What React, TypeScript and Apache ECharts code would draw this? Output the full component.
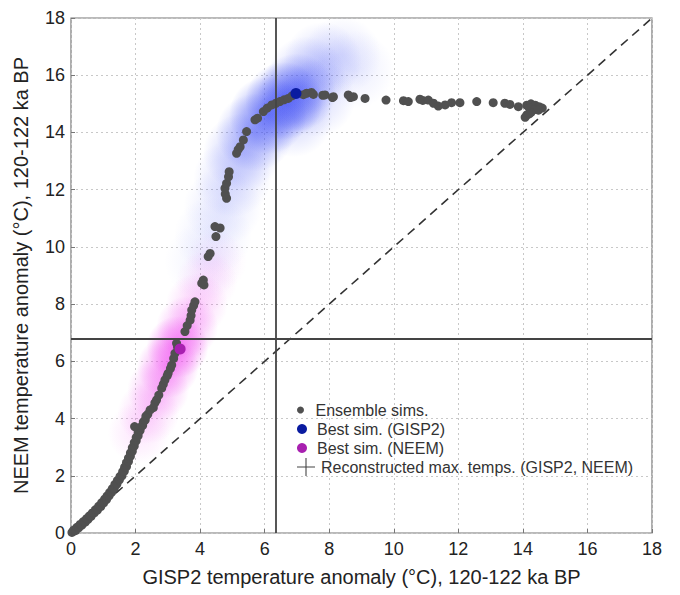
import React, { useEffect, useRef } from "react";
import * as echarts from "echarts";

// ---- data ----
const ensembleSims: number[][] = [
  [0.03, 0.02], [0.08, 0.1], [0.14, 0.08], [0.18, 0.2], [0.24, 0.18], [0.28, 0.3], [0.34, 0.28],
  [0.38, 0.4], [0.44, 0.38], [0.48, 0.5], [0.53, 0.48], [0.57, 0.6], [0.62, 0.58], [0.66, 0.7],
  [0.72, 0.7], [0.76, 0.82], [0.82, 0.8], [0.86, 0.94], [0.92, 0.92], [0.95, 1.06], [1.01, 1.05],
  [1.04, 1.18], [1.1, 1.17], [1.12, 1.3], [1.18, 1.3], [1.2, 1.42], [1.26, 1.42], [1.28, 1.55],
  [1.34, 1.56], [1.36, 1.7], [1.42, 1.7], [1.44, 1.84], [1.5, 1.86], [1.52, 1.98], [1.58, 2.0],
  [1.6, 2.14], [1.65, 2.16], [1.66, 2.3], [1.72, 2.32], [1.72, 2.46], [1.78, 2.5], [1.78, 2.62],
  [1.84, 2.68], [1.84, 2.8], [1.9, 2.86], [1.9, 2.98], [1.96, 3.04], [1.96, 3.16], [2.02, 3.22],
  [2.02, 3.34], [2.08, 3.4], [2.08, 3.52], [2.14, 3.58], [2.16, 3.7], [2.22, 3.76], [2.24, 3.88],
  [2.3, 3.95], [2.32, 4.08], [2.38, 4.15], [1.97, 3.72],
  [2.45, 4.3], [2.55, 4.38], [2.6, 4.55], [2.65, 4.65], [2.72, 4.82], [2.81, 5.06], [2.86, 5.2],
  [2.91, 5.35], [2.98, 5.5], [3.01, 5.58], [3.08, 5.75], [3.12, 5.87], [3.18, 6.1], [3.22, 6.28],
  [3.27, 6.63], [3.3, 6.5], [3.53, 7.04], [3.6, 7.25], [3.69, 7.44], [3.72, 7.6], [3.74, 7.79],
  [3.8, 7.95], [3.84, 8.08], [4.05, 8.73], [4.1, 8.84], [4.12, 8.67],
  [4.25, 9.66], [4.31, 9.77], [4.46, 10.71], [4.62, 10.66], [4.49, 10.36], [4.82, 11.7],
  [4.78, 11.85], [4.77, 12.05], [4.82, 12.22], [4.88, 12.45], [4.9, 12.63], [5.13, 13.27],
  [5.18, 13.4], [5.24, 13.5], [5.34, 13.74], [5.44, 14.03], [5.7, 14.44], [5.78, 14.5],
  [5.96, 14.73], [6.08, 14.85], [6.22, 14.96], [6.35, 15.02], [6.47, 15.08], [6.6, 15.14],
  [6.73, 15.19], [6.85, 15.28],
  [7.2, 15.32], [7.3, 15.37], [7.45, 15.4], [7.51, 15.33], [7.8, 15.3], [7.87, 15.31], [8.1, 15.22],
  [8.13, 15.25], [8.59, 15.31], [8.66, 15.22], [8.75, 15.25], [9.11, 15.19], [9.76, 15.13],
  [10.3, 15.11], [10.45, 15.08], [10.81, 15.16], [10.9, 15.12], [11.07, 15.13], [11.23, 15.02],
  [11.38, 14.92], [11.59, 14.96], [11.79, 15.04], [12.05, 15.04], [12.57, 15.08], [13.08, 15.04],
  [13.44, 15.02], [13.6, 14.98], [13.86, 14.9], [14.12, 14.95], [14.25, 15.0], [14.38, 14.95],
  [14.5, 14.9], [14.6, 14.85], [14.2, 14.85], [14.35, 14.8], [14.48, 14.78], [14.25, 14.7],
  [14.12, 14.61], [14.07, 14.53], [14.2, 14.65],
];
const bestSimGISP2: number[][] = [[6.97, 15.36]];
const bestSimNEEM: number[][] = [[3.38, 6.43]];
const reconMaxGISP2 = 6.35;
const reconMaxNEEM = 6.8;
const oneToOne: number[][] = [[0, 0], [18, 18]];
// density clouds: [x, y, relative density]
const cloudGISP2: number[][] = [
  [6.6, 15.1, 1.0], [6.1, 14.6, 0.9], [7.0, 15.4, 0.8], [5.7, 14.0, 0.65], [5.3, 13.3, 0.45],
  [5.0, 12.4, 0.3], [4.7, 11.4, 0.2], [4.4, 10.4, 0.15], [4.1, 9.5, 0.1], [7.3, 16.0, 0.4],
  [7.8, 16.5, 0.3], [8.4, 16.7, 0.2], [8.8, 16.2, 0.15], [6.9, 14.5, 0.35], [7.6, 15.2, 0.3],
];
const cloudNEEM: number[][] = [
  [3.3, 6.5, 1.0], [3.0, 5.8, 0.8], [3.6, 7.2, 0.6], [2.7, 5.0, 0.55], [2.4, 4.2, 0.35],
  [2.1, 3.5, 0.2], [3.9, 8.0, 0.35], [4.2, 8.8, 0.2], [4.5, 9.5, 0.12],
];
const axisMin = 0;
const axisMax = 18;
const axisStep = 2;

const FONT = "Liberation Sans, Arial, sans-serif";
const CROSS_ICON = "path://M0,9.4H20V10.6H0Z M9.4,0H10.6V20H9.4Z";

function radial(rgb: string, a: number) {
  return new echarts.graphic.RadialGradient(0.5, 0.5, 0.5, [
    { offset: 0, color: `rgba(${rgb},${a})` },
    { offset: 0.6, color: `rgba(${rgb},${a * 0.45})` },
    { offset: 1, color: `rgba(${rgb},0)` },
  ]);
}

export default function App() {
  const ref = useRef<HTMLDivElement>(null);
  useEffect(() => {
    if (!ref.current) return;
    const chart = echarts.init(ref.current, undefined, { renderer: "svg" });
    const axisCommon = {
      type: "value" as const,
      min: axisMin,
      max: axisMax,
      interval: axisStep,
      nameLocation: "middle" as const,
      nameTextStyle: { fontSize: 20, color: "#222", fontFamily: FONT },
      axisLine: { show: false },
      axisTick: { show: true, inside: true, length: 4, lineStyle: { color: "#777" } },
      axisLabel: { fontSize: 18, color: "#222", fontFamily: FONT },
      splitLine: { show: true, lineStyle: { color: "#c8c8c8", type: [2, 3] as any, width: 1 } },
    };
    chart.setOption({
      animation: false,
      backgroundColor: "#fff",
      grid: {
        left: 71, right: 28, top: 18, bottom: 62,
        show: true, borderColor: "#777", borderWidth: 1.2, backgroundColor: "#fff",
      },
      xAxis: {
        ...axisCommon,
        name: "GISP2 temperature anomaly (°C), 120-122 ka BP",
        nameGap: 34,
        axisLabel: { ...axisCommon.axisLabel, margin: 7 },
      },
      yAxis: {
        ...axisCommon,
        name: "NEEM temperature anomaly (°C), 120-122 ka BP",
        nameGap: 40,
        axisLabel: { ...axisCommon.axisLabel, margin: 6 },
      },
      legend: [
        {
          orient: "vertical", left: 292, top: 397, itemWidth: 20, itemHeight: 7, selectedMode: false,
          textStyle: { fontSize: 16, color: "#333", fontFamily: FONT, lineHeight: 16 },
          data: [{ name: "Ensemble sims.", icon: "circle" }],
        },
        {
          orient: "vertical", left: 292, top: 416, itemWidth: 20, itemHeight: 10, itemGap: 3, selectedMode: false,
          textStyle: { fontSize: 16, color: "#333", fontFamily: FONT, lineHeight: 16 },
          data: [
            { name: "Best sim. (GISP2)", icon: "circle" },
            { name: "Best sim. (NEEM)", icon: "circle" },
          ],
        },
        {
          orient: "vertical", left: 292, top: 453, itemWidth: 20, itemHeight: 18, selectedMode: false,
          textStyle: { fontSize: 16, color: "#333", fontFamily: FONT, lineHeight: 16 },
          data: [{ name: "Reconstructed max. temps. (GISP2, NEEM)", icon: CROSS_ICON }],
        },
      ],
      series: [
        {
          name: "cloud GISP2", type: "scatter", silent: true, z: 1, symbolSize: 78,
          itemStyle: { color: radial("65,80,245", 0.65) },
          data: cloudGISP2.map((d) => ({ value: [d[0], d[1]], itemStyle: { opacity: d[2] } })),
        },
        {
          name: "cloud NEEM", type: "scatter", silent: true, z: 1, symbolSize: 62,
          itemStyle: { color: radial("240,70,240", 0.7) },
          data: cloudNEEM.map((d) => ({ value: [d[0], d[1]], itemStyle: { opacity: d[2] } })),
        },
        {
          name: "1:1", type: "line", silent: true, z: 2, symbol: "none",
          lineStyle: { color: "#333", width: 1.6, type: [9, 6] as any },
          data: oneToOne,
        },
        {
          name: "Reconstructed max. temps. (GISP2, NEEM)", type: "line", z: 3, data: [],
          itemStyle: { color: "#444" }, lineStyle: { color: "#444" },
          markLine: {
            silent: true, symbol: "none", label: { show: false },
            lineStyle: { color: "#444", width: 1.8, type: "solid" },
            data: [{ xAxis: reconMaxGISP2 }, { yAxis: reconMaxNEEM }],
          },
        },
        {
          name: "Ensemble sims.", type: "scatter", z: 4, symbolSize: 9,
          itemStyle: { color: "#505050", opacity: 1 }, data: ensembleSims,
        },
        {
          name: "Best sim. (GISP2)", type: "scatter", z: 5, symbolSize: 11,
          itemStyle: { color: "#0a1ba0", opacity: 1 }, data: bestSimGISP2,
        },
        {
          name: "Best sim. (NEEM)", type: "scatter", z: 5, symbolSize: 11,
          itemStyle: { color: "#a820b0", opacity: 1 }, data: bestSimNEEM,
        },
      ],
    });
    return () => chart.dispose();
  }, []);
  return (
    <div
      ref={ref}
      style={{ position: "fixed", left: 0, top: 0, width: 680, height: 595, background: "#fff" }}
    />
  );
}
